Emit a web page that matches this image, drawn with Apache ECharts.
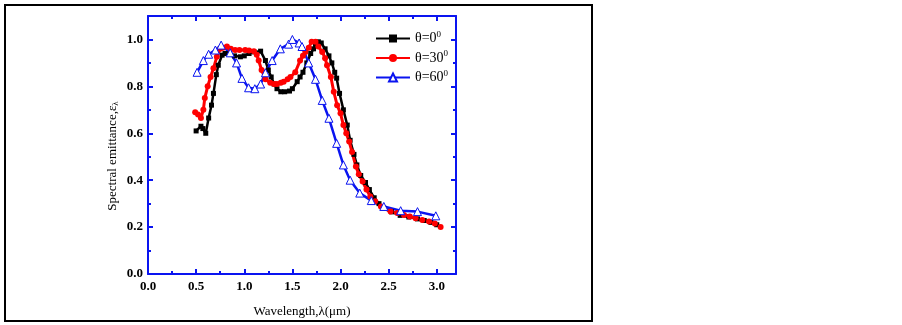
<!DOCTYPE html>
<html>
<head>
<meta charset="utf-8">
<script src="https://cdn.jsdelivr.net/npm/echarts@6/dist/echarts.min.js"></script>
<style>
  html, body { margin: 0; padding: 0; background: #fff; }
  #chartBox { width: 902px; height: 325px; }
</style>
</head>
<body>
<div id="chartBox"></div>
<script>
// theta = 0 deg (black squares)
var wl0 = [0.50,0.55,0.57,0.60,0.63,0.66,0.68,0.71,0.73,0.77,0.80,0.85,0.90,0.96,1.00,1.05,1.10,1.17,1.22,1.25,1.28,1.31,1.34,1.38,1.42,1.47,1.50,1.55,1.58,1.61,1.65,1.69,1.72,1.74,1.77,1.80,1.84,1.88,1.91,1.94,1.96,1.99,2.03,2.07,2.10,2.14,2.17,2.21,2.26,2.30,2.35,2.40,2.45,2.53,2.62,2.71,2.80,2.87,2.94,3.00];
var em0 = [0.61,0.63,0.62,0.60,0.665,0.72,0.77,0.85,0.89,0.933,0.94,0.94,0.93,0.926,0.93,0.94,0.947,0.95,0.91,0.87,0.84,0.81,0.79,0.777,0.777,0.78,0.79,0.82,0.84,0.86,0.90,0.94,0.96,0.98,0.99,0.985,0.96,0.93,0.90,0.86,0.835,0.77,0.70,0.635,0.57,0.51,0.465,0.42,0.39,0.36,0.325,0.30,0.28,0.265,0.25,0.243,0.235,0.228,0.22,0.21];
// theta = 30 deg (red circles)
var wl30 = [0.49,0.52,0.55,0.575,0.59,0.62,0.65,0.68,0.715,0.75,0.78,0.82,0.86,0.905,0.95,1.01,1.05,1.10,1.13,1.15,1.18,1.22,1.27,1.31,1.34,1.38,1.41,1.45,1.48,1.53,1.58,1.61,1.635,1.67,1.70,1.74,1.77,1.81,1.84,1.86,1.90,1.93,1.965,2.00,2.03,2.06,2.09,2.12,2.16,2.19,2.23,2.27,2.31,2.36,2.42,2.52,2.59,2.66,2.72,2.78,2.85,2.92,2.98,3.04];
var em30 = [0.69,0.68,0.665,0.70,0.75,0.80,0.84,0.877,0.926,0.96,0.965,0.97,0.96,0.955,0.955,0.955,0.953,0.95,0.935,0.91,0.87,0.83,0.815,0.81,0.81,0.815,0.82,0.83,0.84,0.86,0.91,0.93,0.947,0.965,0.99,0.99,0.97,0.947,0.92,0.89,0.84,0.777,0.72,0.685,0.635,0.60,0.565,0.52,0.458,0.425,0.394,0.36,0.33,0.31,0.288,0.266,0.26,0.252,0.245,0.238,0.23,0.224,0.215,0.20];
// theta = 60 deg (blue open triangles)
var wl60 = [0.51,0.575,0.63,0.70,0.76,0.854,0.92,0.976,1.045,1.11,1.17,1.22,1.29,1.375,1.46,1.50,1.57,1.60,1.67,1.74,1.81,1.88,1.96,2.03,2.10,2.20,2.32,2.45,2.625,2.80,2.99];
var em60 = [0.86,0.91,0.937,0.955,0.976,0.943,0.90,0.834,0.794,0.79,0.81,0.858,0.91,0.96,0.98,1.00,0.985,0.97,0.90,0.83,0.74,0.664,0.557,0.465,0.40,0.345,0.313,0.288,0.27,0.266,0.248];

var seriesNames = ['θ=0', 'θ=30', 'θ=60'];

function pairs(xs, ys) {
  return xs.map(function (x, i) { return [x, ys[i]]; });
}

var serif = 'Liberation Serif';
var blue = '#0a14f0';

var chartDom = document.getElementById('chartBox');
var myChart = echarts.init(chartDom);

function frameAxis(extra) {
  var ax = {
    type: 'value',
    axisLine: { show: true, onZero: false, lineStyle: { color: blue, width: 2 } },
    axisTick: { show: true, inside: true, length: 5, lineStyle: { color: blue, width: 2 } },
    minorTick: { show: true, splitNumber: 2, length: 3, lineStyle: { color: blue, width: 2 } },
    splitLine: { show: false },
    axisLabel: { show: false }
  };
  return Object.assign(ax, extra);
}

var labelStyle = {
  show: true,
  color: '#000',
  fontFamily: serif,
  fontWeight: 'bold',
  fontSize: 13,
  showMaxLabel: false,
  formatter: function (v) { return v.toFixed(1); }
};

var option = {
  animation: false,
  backgroundColor: '#fff',
  grid: { left: 148, top: 16, right: 446, bottom: 51 },
  xAxis: [
    frameAxis({ position: 'bottom', min: 0, max: 3.2, interval: 0.5,
      axisLabel: Object.assign({ margin: 6 }, labelStyle),
      name: 'Wavelength,λ(μm)', nameLocation: 'middle', nameGap: 31,
      nameTextStyle: { color: '#000', fontFamily: serif, fontSize: 13 } }),
    frameAxis({ position: 'top', min: 0, max: 3.2, interval: 0.5 })
  ],
  yAxis: [
    frameAxis({ position: 'left', min: 0, max: 1.1, interval: 0.2,
      axisLabel: Object.assign({ margin: 5 }, labelStyle) }),
    frameAxis({ position: 'right', min: 0, max: 1.1, interval: 0.2 })
  ],
  legend: {
    orient: 'vertical',
    left: 370,
    top: 25,
    itemWidth: 34,
    itemHeight: 10,
    itemGap: 4,
    data: seriesNames,
    formatter: function (name) { return name + '{sup|0}'; },
    textStyle: {
      color: '#000', fontFamily: serif, fontSize: 14,
      rich: { sup: { fontFamily: serif, fontSize: 9, verticalAlign: 'top', padding: [0, 0, 8, 0] } }
    }
  },
  graphic: [
    {
      type: 'rect',
      shape: { x: 5, y: 5, width: 587, height: 316 },
      style: { fill: 'none', stroke: '#000', lineWidth: 2 }
    },
    {
      type: 'text',
      x: 113, y: 156,
      rotation: Math.PI / 2,
      style: {
        text: 'Spectral emittance,ε{sub|λ}',
        fill: '#000',
        font: '13px "Liberation Serif"',
        align: 'center',
        verticalAlign: 'middle',
        rich: { sub: { fontFamily: serif, fontSize: 9, padding: [6, 0, 0, 0] } }
      }
    }
  ],
  series: [
    {
      name: seriesNames[0], type: 'line', data: pairs(wl0, em0),
      symbol: 'rect', symbolSize: 5,
      itemStyle: { color: '#000' },
      lineStyle: { color: '#000', width: 2.5 }
    },
    {
      name: seriesNames[1], type: 'line', data: pairs(wl30, em30),
      symbol: 'circle', symbolSize: 6,
      itemStyle: { color: '#f00' },
      lineStyle: { color: '#f00', width: 3 }
    },
    {
      name: seriesNames[2], type: 'line', data: pairs(wl60, em60),
      symbol: 'triangle', symbolSize: 8,
      itemStyle: { color: '#fff', borderColor: blue, borderWidth: 1 },
      lineStyle: { color: blue, width: 2.5 }
    }
  ]
};

myChart.setOption(option);
</script>
</body>
</html>
